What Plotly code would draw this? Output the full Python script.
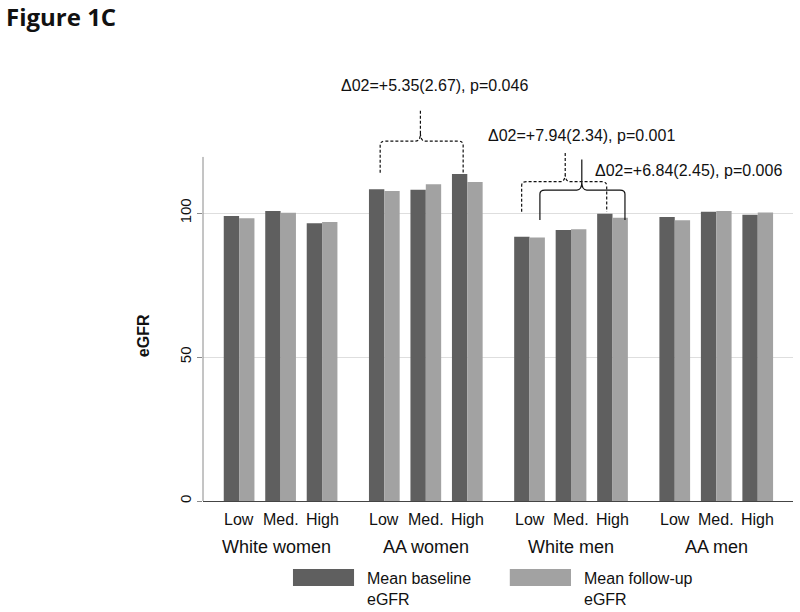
import plotly.graph_objects as go

# ---------------- data ----------------
groups = ["White women", "AA women", "White men", "AA men"]
levels = ["Low", "Med.", "High"]
baseline = [99.0, 100.7, 96.5, 108.3, 108.1, 113.6, 91.8, 94.1, 99.8, 98.6, 100.5, 99.4]
followup = [98.2, 100.1, 96.9, 107.7, 110.0, 110.8, 91.5, 94.4, 98.4, 97.5, 100.7, 100.2]
series_names = ["Mean baseline<br>eGFR", "Mean follow-up<br>eGFR"]
y_ticks = [0, 50, 100]

delta_texts = ["Δ02=+5.35(2.67), p=0.046",
               "Δ02=+7.94(2.34), p=0.001",
               "Δ02=+6.84(2.45), p=0.006"]

# ---------------- layout helpers ----------------
DARK = "#5f5f5f"
LIGHT = "#a2a2a2"
FONT = "Liberation Sans, Arial, sans-serif"
GROUP_STEP = 3.5

xpos = []
for g in range(len(groups)):
    for l in range(len(levels)):
        xpos.append(g * GROUP_STEP + l)

fig = go.Figure()
fig.add_trace(go.Bar(x=xpos, y=baseline, name=series_names[0],
                     marker=dict(color=DARK, line=dict(width=0)), showlegend=False))
fig.add_trace(go.Bar(x=xpos, y=followup, name=series_names[1],
                     marker=dict(color=LIGHT, line=dict(width=0)), showlegend=False))

annotations = []
# level tick labels
for i, x in enumerate(xpos):
    annotations.append(dict(x=x, y=0, xref="x", yref="paper", text=levels[i % 3],
                            showarrow=False, yanchor="middle", yshift=-18,
                            font=dict(family=FONT, size=16, color="#111")))
# group labels
for g, name in enumerate(groups):
    annotations.append(dict(x=g * GROUP_STEP + 1, y=0, xref="x", yref="paper", text=name,
                            showarrow=False, yanchor="middle", yshift=-46,
                            xshift=-4 if g == 0 else 0,
                            font=dict(family=FONT, size=18, color="#111")))

# brace specs (annotation geometry, in data units)
braces = [
    dict(xl=3.40, xr=5.40, xm=4.37, yb=114.0, yh=125.0, yt=136.1, dash="3px,2px",
         tx=4.70, ty=144.4, text=delta_texts[0]),
    dict(xl=6.81, xr=8.86, xm=7.86, yb=100.5, yh=110.9, yt=121.3, dash="3px,2px",
         tx=8.26, ty=127.1, text=delta_texts[1]),
    dict(xl=7.25, xr=9.30, xm=8.26, yb=97.6, yh=108.0, yt=118.6, dash="solid",
         tx=10.84, ty=114.9, text=delta_texts[2]),
]

shapes = []
rx, ry, tpx, tpy = 0.12, 1.4, 0.12, 2.8
for b in braces:
    xl, xr, xm, yb, yh, yt = b["xl"], b["xr"], b["xm"], b["yb"], b["yh"], b["yt"]
    path = (f"M {xl},{yb} L {xl},{yh-ry} Q {xl},{yh} {xl+rx},{yh} "
            f"L {xm-tpx},{yh} Q {xm},{yh} {xm},{yh+tpy} L {xm},{yt} "
            f"M {xm},{yh+tpy} Q {xm},{yh} {xm+tpx},{yh} "
            f"L {xr-rx},{yh} Q {xr},{yh} {xr},{yh-ry} L {xr},{yb}")
    shapes.append(dict(type="path", path=path, xref="x", yref="y",
                       line=dict(color="#111", width=1.2, dash=b["dash"])))
    annotations.append(dict(x=b["tx"], y=b["ty"], xref="x", yref="y", text=b["text"],
                            showarrow=False, font=dict(family=FONT, size=16, color="#111")))

# y-axis line (only up to the visible value range)
shapes.append(dict(type="line", xref="paper", yref="y", x0=0, x1=0, y0=0, y1=119.5,
                   line=dict(color="#8a8a8a", width=1)))

# y title
annotations.append(dict(x=-0.1017, y=57.6, xref="paper", yref="y", text="<b>eGFR</b>",
                        textangle=-90, showarrow=False, xanchor="center", yanchor="middle",
                        font=dict(family=FONT, size=16, color="#111")))

# custom legend
legend_items = [(DARK, 0.1525, 0.256, 0.2746), (LIGHT, 0.520, 0.6237, 0.642)]
for (col, x0, x1, tx), name in zip(legend_items, series_names):
    shapes.append(dict(type="rect", xref="paper", yref="paper", x0=x0, x1=x1,
                       y0=-0.198, y1=-0.1585, fillcolor=col, line=dict(width=0)))
    annotations.append(dict(x=tx, y=-0.205, xref="paper", yref="paper", text=name,
                            showarrow=False, xanchor="left", yanchor="middle", align="left",
                            font=dict(family=FONT, size=16, color="#111")))

fig.update_layout(
    width=800, height=612,
    margin=dict(l=203, r=7, t=72, b=111),
    paper_bgcolor="white", plot_bgcolor="white",
    barmode="group", bargap=0.26, bargroupgap=0,
    title=dict(text="<b>Figure 1C</b>", xref="container", yref="container",
               x=0.0075, xanchor="left", y=1 - 18 / 612, yanchor="middle",
               font=dict(family="Open Sans, sans-serif", size=24, color="#111")),
    xaxis=dict(range=[-0.87, 13.35], showticklabels=False, ticks="", showgrid=False,
               zeroline=False, showline=True, linecolor="#444", linewidth=1.2),
    yaxis=dict(range=[0, 149], tickvals=y_ticks, ticktext=[str(v) for v in y_ticks],
               tickangle=-90, ticks="outside", ticklen=5, tickcolor="#8a8a8a",
               showgrid=True, gridcolor="#dedede", gridwidth=1, zeroline=False,
               showline=False, tickfont=dict(family=FONT, size=15, color="#111")),
    shapes=shapes, annotations=annotations,
    showlegend=False,
)

fig.write_html("out.html", config={"displayModeBar": False},
               post_script="document.body.style.margin='0';")
